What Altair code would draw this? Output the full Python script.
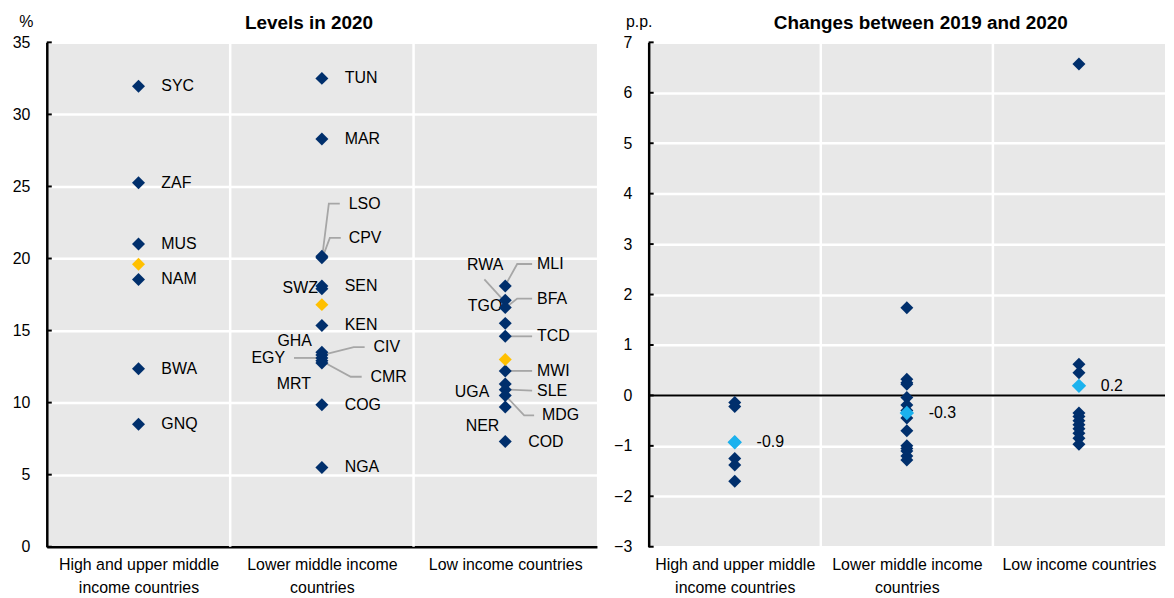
import json
import altair as alt
import pandas as pd

# ---------------- data ----------------
GROUP_LINES = [["High and upper middle", "income countries"],
               ["Lower middle income", "countries"],
               ["Low income countries"]]

HI_COUNTRIES = ["SYC", "ZAF", "MUS", "NAM", "BWA", "GNQ"]
HI_LEVELS = [31.95, 25.25, 21.0, 18.55, 12.35, 8.5]

LM_COUNTRIES = ["TUN", "MAR", "LSO", "CPV", "SWZ", "SEN", "KEN", "GHA", "CIV", "EGY", "CMR", "MRT", "COG", "NGA"]
LM_LEVELS = [32.5, 28.3, 20.15, 20.05, 18.1, 17.9, 15.35, 13.5, 13.3, 13.1, 12.9, 12.75, 9.85, 5.5]

LO_COUNTRIES = ["MLI", "RWA", "BFA", "TGO", "TCD", "MWI", "UGA", "SLE", "MDG", "NER", "COD"]
LO_LEVELS = [18.1, 17.1, 16.6, 15.5, 14.6, 12.2, 11.3, 10.9, 10.5, 9.7, 7.3]

LEVEL_AVERAGES = [19.6, 16.8, 13.0]

HI_CHANGES = [-0.14, -0.22, -0.93, -1.25, -1.38, -1.70]
LM_CHANGES = [1.74, 0.32, 0.25, 0.22, -0.04, -0.19, -0.3, -0.45, -0.7, -1.0, -1.05, -1.1, -1.2, -1.28]
LO_CHANGES = [6.57, 0.62, 0.45, -0.35, -0.42, -0.5, -0.58, -0.66, -0.75, -0.85, -0.97]

CHANGE_AVERAGES = [-0.93, -0.35, 0.19]
CHANGE_AVG_LABELS = ["-0.9", "-0.3", "0.2"]

LEVEL_TICKS = [0, 5, 10, 15, 20, 25, 30, 35]
CHANGE_TICKS = [-3, -2, -1, 0, 1, 2, 3, 4, 5, 6, 7]

# ---------------- label layout (pixel offsets from the point) ----------------
LAYOUT = {
    "LSO": (27, -53, "left", [(18, -53), (7, -53), (1, -5)]),
    "CPV": (27, -20, "left", [(19, -20), (8, -20), (2, -4)]),
    "SWZ": (-4, 2, "right", None),
    "SEN": (23, -3, "left", None),
    "GHA": (-10, -11, "right", None),
    "CIV": (52, -8, "left", [(43, -8), (32, -8), (4, -1)]),
    "EGY": (-37, 0, "right", [(-28, 0), (-3, 0)]),
    "CMR": (49, 16, "left", [(40, 16), (29, 16), (3, 2)]),
    "MRT": (-11, 21, "right", None),
    "MLI": (32, -22, "left", [(27, -22), (12, -22), (2, -4)]),
    "RWA": (-2, -35, "right", [(-21, -21), (2, 4)]),
    "BFA": (32, -9, "left", [(27, -9), (12, -9), (2, -1)]),
    "TGO": (-3, -17, "right", None),
    "TCD": (32, 0, "left", [(27, 0), (4, 0)]),
    "MWI": (32, 0, "left", [(27, 0), (4, 0)]),
    "UGA": (-16, 8, "right", None),
    "SLE": (32, 1, "left", [(27, 1), (4, 0)]),
    "MDG": (37, 20, "left", [(29, 20), (19, 20), (2, 2)]),
    "NER": (-6, 19, "right", None),
}
DEFAULT_LAYOUT = (23, 0, "left", None)

FONT = "Liberation Sans, Arial, sans-serif"
FS = 16
DARK = "#002F6C"
YELLOW = "#FFC000"
LIGHT = "#1BB2EE"
BG = "#E8E8E8"

W1, W2, H = 553, 519, 507
L_YMAX, L_YMIN = 35, 0
R_YMAX, R_YMIN = 7, -3

# ---------------- tables ----------------
lev_rows, lab_rows, lead_rows = [], [], []
pxx = W1 / 3.0
pxy = H / float(L_YMAX - L_YMIN)
for gi, (cs, vs) in enumerate([(HI_COUNTRIES, HI_LEVELS), (LM_COUNTRIES, LM_LEVELS), (LO_COUNTRIES, LO_LEVELS)]):
    for c, v in zip(cs, vs):
        lev_rows.append({"x": gi, "y": v, "country": c})
        dx, dy, al, lead = LAYOUT.get(c, DEFAULT_LAYOUT)
        lab_rows.append({"x": gi + dx / pxx, "y": v - dy / pxy, "country": c, "align": al})
        if lead:
            for k, (ldx, ldy) in enumerate(lead):
                lead_rows.append({"x": gi + ldx / pxx, "y": v - ldy / pxy, "lid": c, "k": k})
lev_df = pd.DataFrame(lev_rows)
lab_df = pd.DataFrame(lab_rows)
lead_df = pd.DataFrame(lead_rows)
lev_avg_df = pd.DataFrame({"x": [0, 1, 2], "y": LEVEL_AVERAGES})

chg_rows = []
for gi, vs in enumerate([HI_CHANGES, LM_CHANGES, LO_CHANGES]):
    for v in vs:
        chg_rows.append({"x": gi, "y": v})
chg_df = pd.DataFrame(chg_rows)
chg_avg_df = pd.DataFrame({"x": [0, 1, 2], "y": CHANGE_AVERAGES, "label": CHANGE_AVG_LABELS,
                           "lx": [i + 22 / (W2 / 3.0) for i in range(3)]})

bounds_df = pd.DataFrame({"b": [0.5, 1.5]})

# ---------------- helpers ----------------
label_expr = ""
for i in range(len(GROUP_LINES) - 1, -1, -1):
    arr = json.dumps(GROUP_LINES[i])
    label_expr = arr if label_expr == "" else f"datum.value == {i} ? {arr} : ({label_expr})"


def x_enc(field, domain_line):
    return alt.X(f"{field}:Q", scale=alt.Scale(domain=[-0.5, 2.5], nice=False, zero=False),
                 axis=alt.Axis(values=[0, 1, 2], labelExpr=label_expr, title=None, grid=False, ticks=False,
                               domain=domain_line, domainColor="black", domainWidth=2.5,
                               labelFontSize=FS, labelFont=FONT, labelColor="black", labelPadding=10,
                               labelLineHeight=23, labelOverlap=False, labelFlush=False, labelBaseline="top"))


def y_enc(field, lo, hi, ticks, title, tx):
    return alt.Y(f"{field}:Q", scale=alt.Scale(domain=[lo, hi], nice=False, zero=False),
                 axis=alt.Axis(values=ticks, title=title, titleAngle=0, titleX=tx, titleY=-21,
                               titleAlign="center", titleBaseline="middle", titleFontWeight="normal",
                               titleFontSize=FS, titleFont=FONT, titleColor="black",
                               grid=True, gridColor="white", gridWidth=2.5, ticks=False,
                               domain=True, domainColor="black", domainWidth=2.5,
                               labelFontSize=FS, labelFont=FONT, labelColor="black", labelPadding=17))


def panel(df_points, pt_color, df_avg, avg_color, avg_size, lo, hi, ticks, ytitle, tx, width, domain_x, extra):
    base_y = lambda f: y_enc(f, lo, hi, ticks, ytitle, tx)
    vlines = alt.Chart(bounds_df).mark_rule(color="white", strokeWidth=2.5).encode(
        x=x_enc("b", domain_x))
    stubs = alt.Chart(pd.DataFrame({"t": ticks})).mark_rule(color="black", strokeWidth=2).encode(
        y=base_y("t"), x=alt.value(0), x2=alt.value(5))
    pts = alt.Chart(df_points).mark_point(shape="diamond", filled=True, size=170, opacity=1,
                                          color=pt_color).encode(x=x_enc("x", domain_x), y=base_y("y"))
    avg = alt.Chart(df_avg).mark_point(shape="diamond", filled=True, size=avg_size, opacity=1,
                                       color=avg_color).encode(x=x_enc("x", domain_x), y=base_y("y"))
    layers = [vlines] + extra(base_y) + [stubs, pts, avg]
    return alt.layer(*layers).properties(width=width, height=H)


def left_extra(base_y):
    leaders = alt.Chart(lead_df).mark_line(color="#A6A6A6", strokeWidth=1.8).encode(
        x=x_enc("x", True), y=base_y("y"), detail="lid:N", order="k:Q")
    tl = alt.Chart(lab_df).transform_filter("datum.align == 'left'").mark_text(
        align="left", baseline="middle", font=FONT, fontSize=FS, color="black").encode(
        x=x_enc("x", True), y=base_y("y"), text="country:N")
    tr = alt.Chart(lab_df).transform_filter("datum.align == 'right'").mark_text(
        align="right", baseline="middle", font=FONT, fontSize=FS, color="black").encode(
        x=x_enc("x", True), y=base_y("y"), text="country:N")
    return [leaders, tl, tr]


def right_extra(base_y):
    zero = alt.Chart(pd.DataFrame({"z": [0]})).mark_rule(color="black", strokeWidth=2).encode(
        y=base_y("z"))
    txt = alt.Chart(chg_avg_df).mark_text(align="left", baseline="middle", font=FONT, fontSize=FS,
                                          color="black").encode(
        x=x_enc("lx", False), y=base_y("y"), text="label:N")
    return [zero, txt]


left = panel(lev_df, DARK, lev_avg_df, YELLOW, 170, L_YMIN, L_YMAX, LEVEL_TICKS, "%", -21, W1, True,
             left_extra).properties(
    title=alt.TitleParams("Levels in 2020", fontSize=19, fontWeight="bold", font=FONT, anchor="middle",
                          dx=-13, offset=-20, color="black"))

right = panel(chg_df, DARK, chg_avg_df, LIGHT, 210, R_YMIN, R_YMAX, CHANGE_TICKS, "p.p.", -10, W2, False,
              right_extra).properties(
    title=alt.TitleParams("Changes between 2019 and 2020", fontSize=19, fontWeight="bold", font=FONT,
                          anchor="middle", dx=14, offset=-20, color="black"))

chart = alt.hconcat(left, right, spacing=16).properties(
    padding={"left": 4, "top": 4, "right": 0, "bottom": 0}
).configure_view(fill=BG, stroke=None)

chart.save("out.html", embed_options={"renderer": "svg", "actions": False})
